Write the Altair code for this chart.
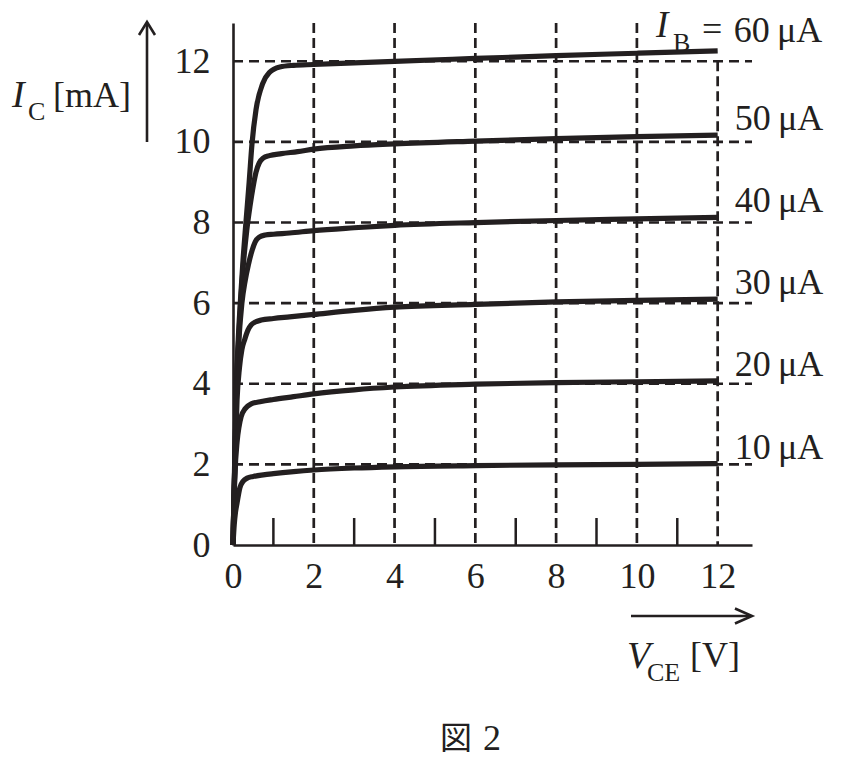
import altair as alt
import pandas as pd

# ---------------- data ----------------
V60 = [0, 0.02, 0.04, 0.085, 0.13, 0.18, 0.25, 0.32, 0.4, 0.47, 0.57, 0.74, 0.9, 1.16, 1.5, 2, 3, 4, 6, 8, 10, 12]
I60 = [0, 1.0, 2.0, 4.0, 5.1, 6.0, 7.1, 8.0, 9.0, 9.95, 10.8, 11.46, 11.72, 11.86, 11.9, 11.92, 11.96, 12.0, 12.07, 12.14, 12.2, 12.26]

V50 = [0, 0.02, 0.045, 0.09, 0.14, 0.19, 0.26, 0.34, 0.42, 0.5, 0.57, 0.65, 0.75, 0.9, 1.2, 1.6, 2, 3, 4, 6, 8, 10, 12]
I50 = [0, 1.0, 2.0, 4.0, 5.1, 6.0, 7.0, 7.8, 8.4, 8.9, 9.25, 9.48, 9.6, 9.66, 9.71, 9.76, 9.82, 9.9, 9.95, 10.02, 10.08, 10.13, 10.17]

V40 = [0, 0.02, 0.045, 0.09, 0.14, 0.22, 0.3, 0.38, 0.47, 0.55, 0.65, 0.8, 1.0, 1.4, 2, 3, 4, 6, 8, 10, 12]
I40 = [0, 1.0, 2.0, 4.0, 5.0, 6.0, 6.55, 6.95, 7.3, 7.52, 7.64, 7.69, 7.71, 7.74, 7.8, 7.87, 7.93, 8.0, 8.05, 8.09, 8.13]

V30 = [0, 0.02, 0.05, 0.1, 0.16, 0.22, 0.29, 0.37, 0.45, 0.55, 0.7, 1.0, 1.4, 2, 3, 4, 6, 8, 10, 12]
I30 = [0, 1.0, 2.0, 3.6, 4.4, 4.85, 5.1, 5.33, 5.46, 5.53, 5.58, 5.62, 5.66, 5.72, 5.82, 5.9, 5.97, 6.03, 6.07, 6.1]

V20 = [0, 0.02, 0.05, 0.1, 0.15, 0.2, 0.3, 0.45, 0.7, 1.0, 1.5, 2, 3, 4, 6, 8, 10, 12]
I20 = [0, 0.9, 1.8, 2.55, 2.94, 3.18, 3.38, 3.5, 3.56, 3.61, 3.68, 3.75, 3.85, 3.92, 3.99, 4.03, 4.05, 4.07]

V10 = [0, 0.03, 0.06, 0.1, 0.17, 0.25, 0.35, 0.5, 0.75, 1.0, 1.5, 2, 3, 4, 6, 8, 10, 12]
I10 = [0, 0.5, 0.8, 1.04, 1.42, 1.58, 1.66, 1.7, 1.74, 1.77, 1.82, 1.86, 1.91, 1.94, 1.97, 1.99, 2.0, 2.02]

SERIES = [60, 50, 40, 30, 20, 10]
SERIES_V = [V60, V50, V40, V30, V20, V10]
SERIES_I = [I60, I50, I40, I30, I20, I10]
SERIES_LABELS = ["60\u2009\u03bcA", "50\u2009\u03bcA", "40\u2009\u03bcA", "30\u2009\u03bcA", "20\u2009\u03bcA", "10\u2009\u03bcA"]

X_TICKS = [0, 2, 4, 6, 8, 10, 12]
Y_TICKS = [0, 2, 4, 6, 8, 10, 12]
Y_GRID = [2, 4, 6, 8, 10, 12]
X_GRID = [2, 4, 6, 8, 10, 12]
X_GRID_TOP = [12.95, 12.95, 12.95, 12.95, 12.95, 12]
X_MINOR = [1, 3, 5, 7, 9, 11]
X_MAX = 12.85
Y_MAX = 12.95

# ---------------- tables ----------------
rows = []
for s, vs, cs in zip(SERIES, SERIES_V, SERIES_I):
    for k, (v, c) in enumerate(zip(vs, cs)):
        rows.append({"series": s, "V": v, "I": c, "k": k})
curves = pd.DataFrame(rows)
ends = pd.DataFrame({"series": SERIES, "V": [v[-1] for v in SERIES_V],
                     "I": [c[-1] for c in SERIES_I], "label": SERIES_LABELS})
hgrid = pd.DataFrame({"y": Y_GRID})
vgrid = pd.DataFrame({"x": X_GRID, "top": X_GRID_TOP, "bottom": [0] * len(X_GRID)})
minor = pd.DataFrame({"x": X_MINOR})
one = pd.DataFrame({"a": [0]})

W, H = 519, 522
INK = "#231f20"
SERIF = "Liberation Serif"

xs = alt.Scale(domain=[0, X_MAX], nice=False, zero=True)
ys = alt.Scale(domain=[0, Y_MAX], nice=False, zero=True)
xa = alt.Axis(values=X_TICKS, ticks=False, tickSize=0, grid=False, title=None,
              labelFont=SERIF, labelFontSize=36, labelColor=INK, labelPadding=14,
              labelFlush=False, labelOverlap=False, labelAngle=0,
              domainColor=INK, domainWidth=2.6, format="d")
ya = alt.Axis(values=Y_TICKS, ticks=False, tickSize=0, grid=False, title=None,
              labelFont=SERIF, labelFontSize=36, labelColor=INK, labelPadding=23,
              labelFlush=False, labelOverlap=False,
              domainColor=INK, domainWidth=2.6, format="d")

def X(f):
    return alt.X(f, scale=xs, axis=xa)

def Y(f):
    return alt.Y(f, scale=ys, axis=ya)

h_lines = alt.Chart(hgrid).mark_rule(color=INK, strokeWidth=2.6, strokeDash=[10, 6]).encode(
    y=Y("y:Q"), x=alt.value(0), x2=alt.value(W))

v_lines = alt.Chart(vgrid).mark_rule(color=INK, strokeWidth=2.7, strokeDash=[10, 5]).encode(
    x=X("x:Q"), y=Y("top:Q"), y2="bottom:Q")

minor_ticks = alt.Chart(minor).mark_rule(color=INK, strokeWidth=2.5).encode(
    x=X("x:Q"), y=alt.value(H), y2=alt.value(H - 27))

lines = alt.Chart(curves).mark_line(color=INK, strokeWidth=5.2, interpolate="monotone",
                                    strokeCap="butt").encode(
    x=X("V:Q"), y=Y("I:Q"), detail="series:N", order="k:Q")

labels = alt.Chart(ends).transform_filter("datum.series != 60").mark_text(
    font=SERIF, fontSize=36, color=INK, align="left", baseline="alphabetic", dx=17, dy=-5).encode(
    x=X("V:Q"), y=Y("I:Q"), text="label:N")

label60 = alt.Chart(ends).transform_filter("datum.series == 60").mark_text(
    font=SERIF, fontSize=36, color=INK, align="left", baseline="alphabetic", dx=16, dy=-9).encode(
    x=X("V:Q"), y=Y("I:Q"), text="label:N")


def txt(s, x, y, size=36, style="normal", font=SERIF):
    return alt.Chart(one).mark_text(text=s, font=font, fontSize=size, fontStyle=style,
                                    color=INK, align="left", baseline="alphabetic").encode(
        x=alt.value(x), y=alt.value(y))

texts = [
    txt("I", -221, 84, 38, "italic"),
    txt("C", -205, 97, 26),
    txt("[mA]", -180, 84, 36),
    txt("V", 394, 645, 38, "italic"),
    txt("CE", 414, 658, 26),
    txt("[V]", 457, 644, 36),
    txt("I", 423, 14, 37, "italic"),
    txt("B", 440, 28, 26),
    txt("=", 469, 18, 36),
    txt("\u56f3", 207, 726, 32, font="Noto Sans CJK JP"),
    txt("2", 250, 727, 36),
]

y_shaft = alt.Chart(one).mark_rule(color=INK, strokeWidth=2.6).encode(
    x=alt.value(-86), y=alt.value(0), y2=alt.value(119))
y_head = alt.Chart(one).mark_point(shape="M-1,1.625L0,0L1,1.625", filled=False, size=256,
                                   strokeWidth=2.6, color=INK, opacity=1).encode(
    x=alt.value(-86), y=alt.value(-1))
x_shaft = alt.Chart(one).mark_rule(color=INK, strokeWidth=2.6).encode(
    x=alt.value(398), x2=alt.value(518), y=alt.value(593))
x_head = alt.Chart(one).mark_point(shape="M-2.27,-1L0,0L-2.27,1", filled=False, size=225,
                                   strokeWidth=2.6, color=INK, opacity=1).encode(
    x=alt.value(519), y=alt.value(593))

chart = alt.layer(h_lines, v_lines, minor_ticks, lines, labels, label60,
                  y_shaft, y_head, x_shaft, x_head, *texts).properties(
    width=W, height=H, autosize="none",
    padding={"left": 225, "top": 15, "right": 80, "bottom": 210},
    background="white",
).configure_view(stroke=None)

chart.save("out.html", embed_options={"renderer": "svg", "actions": False})
